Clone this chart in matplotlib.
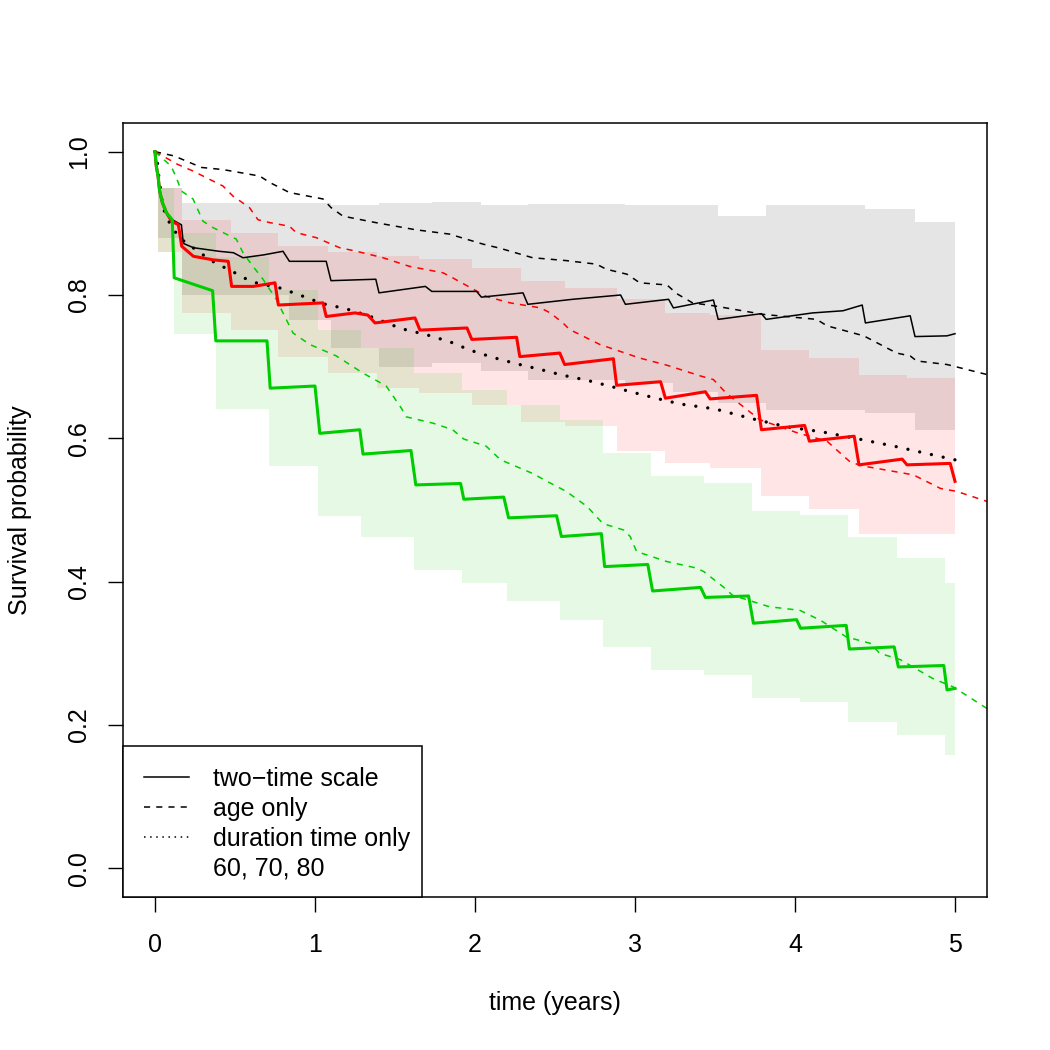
import matplotlib
matplotlib.use("Agg")
import matplotlib.pyplot as plt
from matplotlib.lines import Line2D
from matplotlib.patches import Rectangle

plt.rcParams['font.family'] = ['Liberation Sans', 'DejaVu Sans']

# two-time scale model, ages 60 / 70 / 80 (solid lines)
t60 = [0, 0.008, 0.019, 0.029, 0.046, 0.071, 0.108, 0.165, 0.177, 0.24, 0.40, 0.49, 0.55, 0.68, 0.80,
       0.84, 1.07, 1.10, 1.38, 1.40, 1.69, 1.73, 2.01, 2.04, 2.30, 2.33, 2.61, 2.91, 2.94, 3.21, 3.24,
       3.49, 3.52, 3.79, 3.82, 4.11, 4.30, 4.42, 4.44, 4.72, 4.75, 4.95, 5.0]
s60 = [1.0, 0.98, 0.966, 0.945, 0.929, 0.915, 0.905, 0.898, 0.872, 0.866, 0.861, 0.859, 0.852, 0.856, 0.861,
       0.847, 0.847, 0.820, 0.822, 0.803, 0.812, 0.805, 0.805, 0.797, 0.803, 0.787, 0.794, 0.800, 0.787, 0.794, 0.782,
       0.793, 0.766, 0.774, 0.766, 0.775, 0.778, 0.786, 0.761, 0.771, 0.742, 0.743, 0.746]

t70 = [0, 0.008, 0.019, 0.029, 0.046, 0.071, 0.104, 0.146, 0.167, 0.24, 0.365, 0.458, 0.479, 0.615, 0.75, 0.771,
       1.05, 1.07, 1.25, 1.33, 1.375, 1.625, 1.656, 1.95, 1.98, 2.26, 2.28, 2.53, 2.56, 2.865, 2.885, 3.16, 3.19,
       3.44, 3.47, 3.76, 3.79, 4.06, 4.09, 4.37, 4.40, 4.67, 4.70, 4.97, 5.0]
s70 = [1.0, 0.98, 0.966, 0.945, 0.929, 0.915, 0.903, 0.898, 0.868, 0.854, 0.849, 0.847, 0.812, 0.812, 0.817, 0.786,
       0.789, 0.770, 0.775, 0.772, 0.761, 0.768, 0.751, 0.754, 0.738, 0.741, 0.714, 0.719, 0.703, 0.711, 0.674, 0.679, 0.656,
       0.665, 0.655, 0.660, 0.612, 0.618, 0.596, 0.603, 0.563, 0.571, 0.563, 0.565, 0.540]

t80 = [0, 0.008, 0.019, 0.029, 0.046, 0.071, 0.108, 0.12, 0.36, 0.38, 0.70, 0.72, 1.00, 1.03, 1.28, 1.30,
       1.60, 1.63, 1.91, 1.93, 2.18, 2.21, 2.51, 2.54, 2.79, 2.81, 3.08, 3.11, 3.41, 3.44, 3.71, 3.74,
       4.01, 4.035, 4.32, 4.34, 4.62, 4.646, 4.93, 4.95, 5.0]
s80 = [1.0, 0.98, 0.966, 0.945, 0.929, 0.915, 0.905, 0.824, 0.806, 0.736, 0.736, 0.670, 0.673, 0.607, 0.612, 0.578,
       0.583, 0.535, 0.537, 0.515, 0.518, 0.489, 0.492, 0.463, 0.467, 0.421, 0.424, 0.387, 0.392, 0.378, 0.380, 0.342,
       0.347, 0.335, 0.339, 0.306, 0.309, 0.281, 0.283, 0.249, 0.251]

# confidence bands (step segments)
b60 = [0.02, 0.17, 0.84, 1.10, 1.40, 1.73, 2.04, 2.33, 2.94, 3.24, 3.52, 3.82, 4.44, 4.75, 5.0]
up60 = [0.95, 0.928, 0.929, 0.926, 0.929, 0.930, 0.926, 0.927, 0.926, 0.926, 0.910, 0.926, 0.920, 0.902]
lo60 = [0.88, 0.80, 0.765, 0.726, 0.70, 0.705, 0.694, 0.682, 0.677, 0.665, 0.65, 0.64, 0.635, 0.612]

b70 = [0.02, 0.17, 0.477, 0.77, 1.08, 1.39, 1.65, 1.98, 2.29, 2.56, 2.885, 3.19, 3.47, 3.79, 4.09, 4.40, 4.70, 5.0]
up70 = [0.95, 0.905, 0.886, 0.868, 0.86, 0.855, 0.85, 0.838, 0.819, 0.81, 0.795, 0.775, 0.772, 0.723, 0.712, 0.689, 0.684]
lo70 = [0.86, 0.775, 0.751, 0.714, 0.691, 0.67, 0.663, 0.647, 0.623, 0.617, 0.582, 0.566, 0.558, 0.519, 0.502, 0.467, 0.467]

b80 = [0.02, 0.12, 0.38, 0.71, 1.02, 1.29, 1.62, 1.92, 2.20, 2.53, 2.80, 3.10, 3.43, 3.73, 4.03, 4.33, 4.64, 4.94, 5.0]
up80 = [0.95, 0.887, 0.853, 0.807, 0.751, 0.726, 0.691, 0.668, 0.647, 0.626, 0.58, 0.547, 0.537, 0.498, 0.493, 0.463, 0.433, 0.398]
lo80 = [0.86, 0.745, 0.641, 0.561, 0.492, 0.462, 0.416, 0.398, 0.373, 0.346, 0.309, 0.277, 0.270, 0.237, 0.232, 0.204, 0.186, 0.158]

# age only (dashed)
ta60 = [0, 0.12, 0.29, 0.425, 0.654, 0.717, 0.84, 1.05, 1.10, 1.175, 1.38, 1.63, 1.84, 2.05, 2.16, 2.36, 2.57, 2.76,
        2.82, 2.95, 3.03, 3.20, 3.26, 3.36, 3.49, 3.80, 4.135, 4.20, 4.43, 4.635, 4.72, 4.76, 4.95, 5.2]
sa60 = [1.0, 0.994, 0.978, 0.975, 0.966, 0.957, 0.943, 0.934, 0.922, 0.910, 0.901, 0.891, 0.885, 0.871, 0.865, 0.852, 0.848, 0.843,
        0.836, 0.829, 0.817, 0.814, 0.802, 0.789, 0.785, 0.773, 0.766, 0.757, 0.743, 0.719, 0.715, 0.708, 0.703, 0.689]

ta70 = [0, 0.144, 0.2375, 0.3625, 0.425, 0.4875, 0.59, 0.644, 0.717, 0.84, 0.883, 1.008, 1.154, 1.26, 1.425, 1.59, 1.80,
        1.86, 1.99, 2.07, 2.22, 2.41, 2.47, 2.55, 2.59, 2.78, 3.03, 3.20, 3.41, 3.49, 3.57, 3.70, 3.78, 4.01, 4.20, 4.34,
        4.41, 4.74, 4.91, 5.01, 5.2]
sa70 = [1.0, 0.982, 0.973, 0.959, 0.952, 0.938, 0.922, 0.905, 0.901, 0.896, 0.887, 0.880, 0.866, 0.861, 0.852, 0.840, 0.831,
        0.824, 0.808, 0.798, 0.789, 0.782, 0.775, 0.761, 0.752, 0.731, 0.712, 0.702, 0.687, 0.682, 0.663, 0.640, 0.626, 0.608, 0.596, 0.568,
        0.562, 0.549, 0.530, 0.526, 0.512]

ta80 = [0, 0.10, 0.133, 0.165, 0.2375, 0.30, 0.3625, 0.508, 0.55, 0.6125, 0.675, 0.758, 0.82, 0.8625, 0.967, 1.133, 1.30,
        1.445, 1.54, 1.57, 1.74, 1.86, 1.93, 2.07, 2.16, 2.36, 2.45, 2.57, 2.70, 2.80, 2.93, 2.97, 3.01, 3.20, 3.385, 3.43,
        3.55, 3.61, 3.84, 4.03, 4.16, 4.32, 4.47, 4.53, 4.66, 4.86, 4.99, 5.2]
sa80 = [1.0, 0.98, 0.964, 0.945, 0.934, 0.903, 0.894, 0.878, 0.859, 0.840, 0.822, 0.794, 0.766, 0.747, 0.731, 0.715, 0.691,
        0.673, 0.642, 0.630, 0.621, 0.612, 0.599, 0.589, 0.570, 0.551, 0.540, 0.526, 0.505, 0.481, 0.472, 0.463, 0.442, 0.428, 0.419, 0.414,
        0.393, 0.381, 0.365, 0.360, 0.346, 0.323, 0.314, 0.300, 0.291, 0.265, 0.253, 0.223]

# duration time only (dotted)
td = [0, 0.015, 0.023, 0.033, 0.044, 0.06, 0.088, 0.127, 0.181, 0.2375, 0.294, 0.352, 0.419, 0.483, 0.546, 0.6125, 0.69,
      0.765, 0.904, 1.046, 1.19, 1.335, 1.54, 1.69, 1.84, 1.97, 2.11, 2.26, 2.41, 2.55, 2.70, 2.84, 2.99, 3.13, 3.28,
      3.50, 3.72, 3.95, 4.17, 4.40, 4.62, 4.84, 5.0]
sd = [1.0, 0.985, 0.967, 0.950, 0.931, 0.916, 0.902, 0.888, 0.875, 0.866, 0.857, 0.848, 0.840, 0.833, 0.825, 0.818, 0.814,
      0.811, 0.800, 0.788, 0.781, 0.771, 0.753, 0.745, 0.735, 0.723, 0.713, 0.704, 0.696, 0.688, 0.681, 0.673, 0.664, 0.656, 0.648,
      0.641, 0.628, 0.616, 0.609, 0.599, 0.589, 0.578, 0.570]

legend_labels = ["two\u2212time scale", "age only", "duration time only", "60, 70, 80"]

col60, col70, col80 = "#000000", "#ff0000", "#00cd00"

fig = plt.figure(figsize=(10.5, 10.5), dpi=100)
ax = fig.add_axes([123/1050, 153/1050, 864/1050, 774/1050])

# bands
for b, lo, up, c in [(b60, lo60, up60, col60), (b70, lo70, up70, col70), (b80, lo80, up80, col80)]:
    ax.fill_between(b, lo + [lo[-1]], up + [up[-1]], step='post', color=c, alpha=0.1, lw=0)

# age only
dash = (0, (4, 4))
ax.plot(ta60, sa60, color=col60, lw=1.1, ls=dash)
ax.plot(ta70, sa70, color=col70, lw=1.1, ls=dash)
ax.plot(ta80, sa80, color=col80, lw=1.1, ls=dash)

# duration only
ax.plot(td, sd, color="black", lw=2.4, ls=(0, (0.01, 3.6)), dash_capstyle='round')

# two-time scale
ax.plot(t60, s60, color=col60, lw=1.1)
ax.plot(t70, s70, color=col70, lw=2.2)
ax.plot(t80, s80, color=col80, lw=2.2)

ax.set_xlim(-0.2, 5.2)
ax.set_ylim(-0.04, 1.04)
ax.set_xticks([0, 1, 2, 3, 4, 5])
ax.set_yticks([0.0, 0.2, 0.4, 0.6, 0.8, 1.0])
ax.set_yticklabels(["0.0", "0.2", "0.4", "0.6", "0.8", "1.0"], rotation=90, va='center')
ax.tick_params(direction='out', length=10.8, width=1.0, labelsize=18)
ax.tick_params(axis='x', pad=15)
ax.tick_params(axis='y', pad=12)
for sp in ax.spines.values():
    sp.set_linewidth(1.1)

fig.text(555/1050, 1 - 1003/1050, "time (years)", ha='center', va='center', fontsize=18)
fig.text(20/1050, 1 - 510/1050, "Survival probability", ha='center', va='center', rotation=90, fontsize=18)

# legend (box drawn separately so the right padding is tighter, as in R)
handles = [Line2D([], [], color='black', lw=1.1),
           Line2D([], [], color='black', lw=1.1, ls=dash),
           Line2D([], [], color='black', lw=1.1, ls=(0, (1, 3))),
           Line2D([], [], color='none')]
leg = ax.legend(handles, legend_labels, loc='lower left', bbox_to_anchor=(0, -5/774), fontsize=18,
                frameon=False, borderaxespad=0, handlelength=1.8, handletextpad=0.95,
                labelspacing=0.24, borderpad=0.85)

fig.canvas.draw()
r = fig.canvas.get_renderer()
lb = leg.get_window_extent(r)
txt_right = max(t.get_window_extent(r).x1 for t in leg.get_texts())
ab = ax.get_window_extent(r)
W, H = fig.bbox.width, fig.bbox.height
box = Rectangle((ab.x0 / W, ab.y0 / H), (txt_right + 12 - ab.x0) / W, (lb.y1 - ab.y0) / H,
                transform=fig.transFigure, fill=True, facecolor='white', edgecolor='black',
                lw=1.1, zorder=4)
ax.add_artist(box)
box.set_clip_on(False)
leg.set_zorder(5)

fig.savefig("out.png", dpi=100)
